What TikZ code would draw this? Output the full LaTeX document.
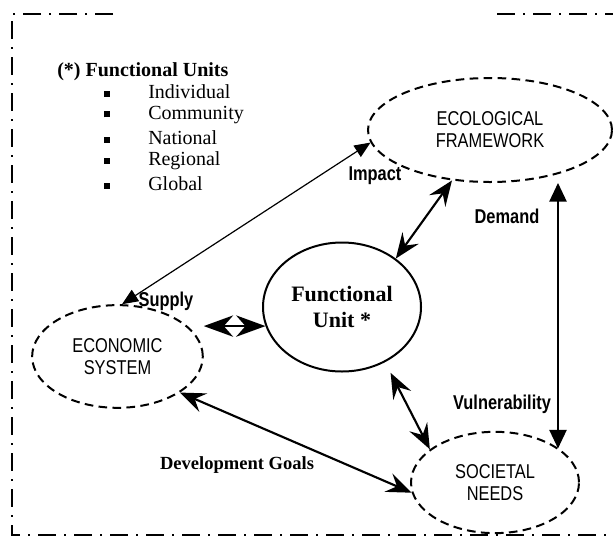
\documentclass[tikz,border=0pt]{standalone}
\usepackage{fontspec}
\setmainfont{Liberation Serif}
\setsansfont{Liberation Sans}[FakeStretch=0.82]
\usetikzlibrary{shapes.geometric, positioning, arrows.meta}
\newcommand{\sqb}{\rule[1.5pt]{4.5pt}{4.5pt}}

\begin{document}
\begin{tikzpicture}[x=0.75pt,y=-0.75pt,on grid,node distance=17.25pt,
  tri/.tip={Triangle[length=12pt,width=10pt]},
  bigtri/.tip={Triangle[length=14pt,width=13pt]},
  stl/.tip={Stealth[length=19pt,width=15pt,inset=7pt]},
  widestl/.tip={Stealth[length=22pt,width=16pt,inset=7pt]},
  sys/.style={ellipse,draw,line width=1.5pt,dash pattern=on 6.5pt off 4pt,inner sep=0pt,align=center,font=\sffamily\fontsize{15}{16.5}\selectfont},
  unit/.style={ellipse,draw,line width=1.5pt,minimum width=118.5pt,minimum height=96.75pt,inner sep=0pt,align=center,font=\bfseries\fontsize{16.5}{20}\selectfont},
  lbl/.style={inner sep=0pt,font=\sffamily\bfseries\fontsize{15}{17}\selectfont},
  goal/.style={inner sep=0pt,font=\bfseries\fontsize{13.9}{16}\selectfont},
  item/.style={inner sep=0pt,text width=150pt,align=left,font=\fontsize{15}{17}\selectfont},
  frame/.style={line width=1.5pt,dash pattern=on 13.5pt off 6pt on 1.5pt off 6pt}]
  \useasboundingbox (0,0) rectangle (613,536);

  % outer frame
  \draw[frame] (113,14) -- (12,14) -- (12,535) -- (613,535);
  \draw[frame] (497,14) -- (613,14);

  % legend
  \node[inner sep=0pt,anchor=west,font=\bfseries\fontsize{15}{17}\selectfont] (units) at (57,72) {(*) Functional Units};
  \node[item,anchor=west] (ind) at (104,92) {\sqb\hspace{28.5pt}Individual};
  \node[item] (com) [below=of ind] {\sqb\hspace{28.5pt}Community};
  \node[item] (nat) [below=of com] {\sqb\hspace{28.5pt}National};
  \node[item] (reg) [below=of nat] {\sqb\hspace{28.5pt}Regional};
  \node[item] (glo) [below=of reg] {\sqb\hspace{28.5pt}Global};

  % systems
  \node[unit] (fu) at (342,307) {Functional\\Unit *};
  \node[sys,minimum width=183pt,minimum height=78pt] (eco) [above right=132.75pt and 111pt of fu] {ECOLOGICAL\\FRAMEWORK};
  \node[sys,minimum width=128pt,minimum height=77pt] (econ) [below left=37.1pt and 168.4pt of fu] {ECONOMIC\\SYSTEM};
  \node[sys,minimum width=126pt,minimum height=76pt] (soc) [below right=131.6pt and 114.75pt of fu] {SOCIETAL\\NEEDS};

  % links
  \draw[line width=0.9pt,tri-tri] (econ.85) -- (eco.186);
  \draw[line width=1.6pt,stl-stl] (fu.42) -- (eco.233);
  \draw[line width=1.6pt,stl-stl,shorten <=9pt] (fu.308) -- (soc.153);
  \draw[line width=1.6pt,stl-stl] (econ.330) -- (soc.187);
  \draw[line width=1.6pt,widestl-widestl] (econ.east |- fu.194) -- (fu.194);
  \coordinate (dm) at ([xshift=51pt]eco.south);
  \draw[line width=1.1pt,bigtri-bigtri] (dm) -- (dm |- soc.28);

  % labels
  \node[lbl] (imp) at (375,176) {Impact};
  \node[lbl] (sup) at (166,301) {Supply};
  \node[lbl] (dem) at (507,216) {Demand};
  \node[lbl] (vul) at (502,404) {Vulnerability};
  \node[goal] (dev) at (237,465) {Development Goals};
\end{tikzpicture}
\end{document}
